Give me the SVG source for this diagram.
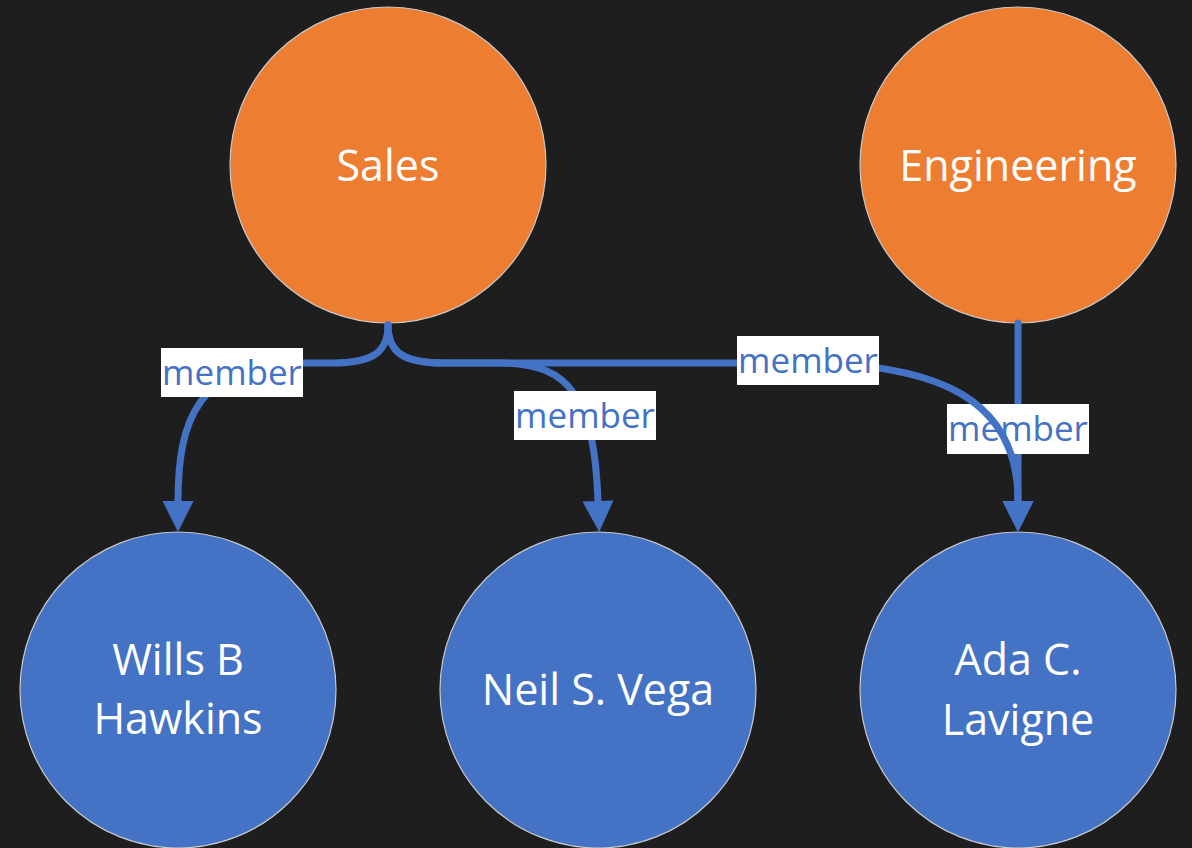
<svg xmlns="http://www.w3.org/2000/svg" width="1192" height="848" viewBox="0 0 1192 848">
<defs>
<style>
.org{fill:#ED7D31;stroke:#c9c9c9;stroke-width:1.2}
.per{fill:#4472C4;stroke:#c9c9c9;stroke-width:1.2}
.nt{font-family:"Open Sans","Liberation Sans",sans-serif;font-size:43px;fill:#ffffff;text-anchor:middle}
.edge{fill:none;stroke:#4472C4;stroke-width:7;stroke-linecap:round}
.lb{fill:#ffffff}
.lt{font-family:"Open Sans","Liberation Sans",sans-serif;font-size:35px;fill:#4472C4;text-anchor:middle}
</style>
<marker id="arr" markerUnits="userSpaceOnUse" markerWidth="34" markerHeight="34" refX="0" refY="16" orient="auto" overflow="visible">
<path d="M0,0.5 L31,16 L0,31.5 Z" fill="#4472C4"/>
</marker>
</defs>
<rect x="0" y="0" width="1192" height="848" fill="#1E1E1E"/>
<g id="node-sales"><circle class="org" cx="388" cy="165" r="158"/><text class="nt" x="388" y="181">Sales</text></g>
<g id="node-engineering"><circle class="org" cx="1018" cy="165" r="158"/><text class="nt" x="1018" y="181">Engineering</text></g>
<g id="node-wills"><circle class="per" cx="178" cy="690" r="158"/><text class="nt" x="178" y="675">Wills B</text><text class="nt" x="178" y="734">Hawkins</text></g>
<g id="node-neil"><circle class="per" cx="598" cy="690" r="158"/><text class="nt" x="598" y="705">Neil S. Vega</text></g>
<g id="node-ada"><circle class="per" cx="1018" cy="690" r="158"/><text class="nt" x="1018" y="675">Ada C.</text><text class="nt" x="1018" y="735">Lavigne</text></g>
<g id="connectors">
<path class="edge" marker-end="url(#arr)" d="M388,325 C388,353 372,363 332,363 L300,363 C198,363 178,420 178,501"/>
<path class="edge" marker-end="url(#arr)" d="M388,325 C388,353 404,363 444,363 L500,363 C572,363 594,400 598,501"/>
<path class="edge" marker-end="url(#arr)" d="M1018,323 L1018,501"/>
<rect class="lb" x="947" y="404" width="142" height="50"/><text class="lt" x="1018" y="441">member</text>
<path class="edge" marker-end="url(#arr)" d="M388,325 C388,353 404,363 444,363 L800,363 C940,363 1018,400 1018,501"/>
<rect class="lb" x="161" y="348" width="142" height="49"/><text class="lt" x="232" y="385">member</text>
<rect class="lb" x="514" y="391" width="142" height="49"/><text class="lt" x="585" y="428">member</text>
<rect class="lb" x="737" y="336" width="142" height="49"/><text class="lt" x="808" y="373">member</text>
</g>
</svg>
